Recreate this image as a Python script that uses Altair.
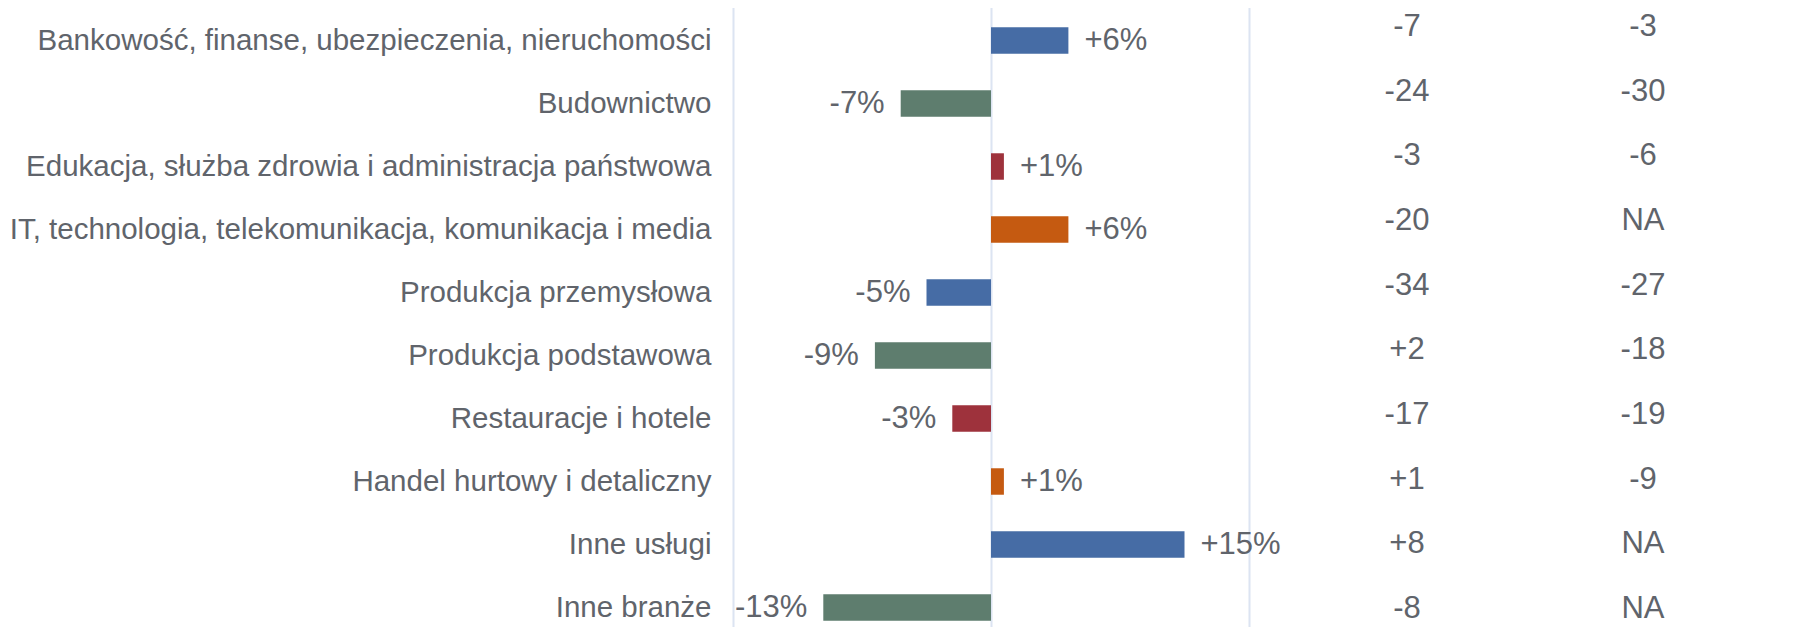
import altair as alt
import pandas as pd

categories = [
    "Bankowość, finanse, ubezpieczenia, nieruchomości",
    "Budownictwo",
    "Edukacja, służba zdrowia i administracja państwowa",
    "IT, technologia, telekomunikacja, komunikacja i media",
    "Produkcja przemysłowa",
    "Produkcja podstawowa",
    "Restauracje i hotele",
    "Handel hurtowy i detaliczny",
    "Inne usługi",
    "Inne branże",
]
change_pct = [6, -7, 1, 6, -5, -9, -3, 1, 15, -13]
col_a = ["-7", "-24", "-3", "-20", "-34", "+2", "-17", "+1", "+8", "-8"]
col_b = ["-3", "-30", "-6", "NA", "-27", "-18", "-19", "-9", "NA", "NA"]

bars_df = pd.DataFrame({
    "cat": categories,
    "v": change_pct,
    "g": [i % 4 for i in range(len(categories))],
})
table_df = pd.DataFrame({
    "row": list(range(len(categories))) * 2,
    "col": ["a"] * len(col_a) + ["b"] * len(col_b),
    "txt": col_a + col_b,
})

TEXT = "#60646B"
FONT = "Liberation Sans"
PALETTE = ["#466CA5", "#5E7D6E", "#9E323C", "#C55A11"]

y_enc = alt.Y(
    "cat:N",
    sort=categories,
    scale=alt.Scale(range=[0, 630], paddingInner=0.58, paddingOuter=0.29),
    axis=alt.Axis(
        title=None, domain=False, ticks=False, tickSize=0, grid=False,
        labelPadding=22, labelFontSize=29.5, labelColor=TEXT, labelFont=FONT,
        labelLimit=1000,
    ),
)
x_enc = alt.X(
    "v:Q",
    scale=alt.Scale(domain=[-20, 20], range=[0, 516], nice=False),
    axis=alt.Axis(
        title=None, values=[-20, 0, 20], grid=True, gridColor="#DCE4F2",
        gridWidth=2, labels=False, ticks=False, domain=False,
    ),
)

base = alt.Chart(bars_df)
bars = base.mark_bar().encode(
    x=x_enc,
    y=y_enc,
    color=alt.Color("g:N", scale=alt.Scale(domain=[0, 1, 2, 3], range=PALETTE), legend=None),
)
lab = base.transform_calculate(lbl="(datum.v > 0 ? '+' : '') + datum.v + '%'")
pos = lab.transform_filter("datum.v > 0").mark_text(
    align="left", dx=16, fontSize=31, font=FONT, color=TEXT, baseline="middle"
).encode(x=x_enc, y=y_enc, text="lbl:N")
neg = lab.transform_filter("datum.v < 0").mark_text(
    align="right", dx=-16, fontSize=31, font=FONT, color=TEXT, baseline="middle"
).encode(x=x_enc, y=y_enc, text="lbl:N")

table = alt.Chart(table_df).mark_text(
    fontSize=31, font=FONT, color=TEXT, baseline="middle", align="center"
).encode(
    x=alt.X("col:N", scale=alt.Scale(type="point", domain=["a", "b"], range=[674, 910], padding=0), axis=None),
    y=alt.Y("row:O", scale=alt.Scale(type="point", range=[18, 600], padding=0), axis=None),
    text="txt:N",
)

chart = (
    alt.layer(alt.layer(bars, pos, neg), table)
    .resolve_scale(x="independent", y="independent")
    .properties(
        width=1037,
        height=618,
        autosize=alt.AutoSizeParams(type="none"),
        padding={"left": 725, "top": 1, "right": 10, "bottom": 0},
    )
    .configure_view(stroke=None)
)

chart.save("out.html", embed_options={"renderer": "svg", "actions": False})
